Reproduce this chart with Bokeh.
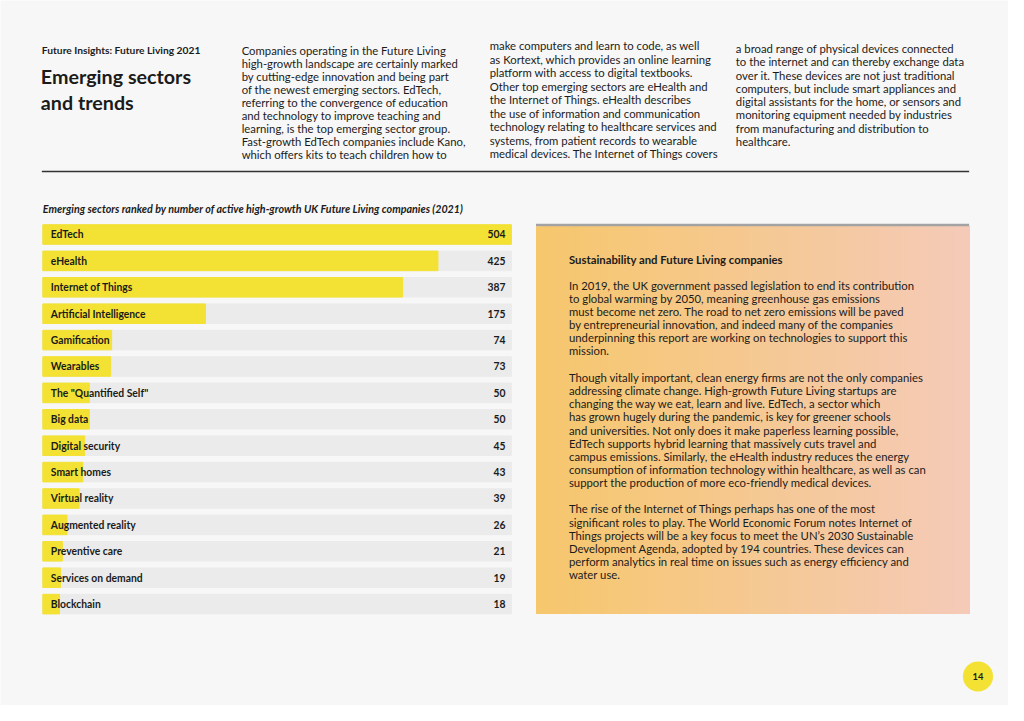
from bokeh.plotting import figure
from bokeh.models import Range1d
from bokeh.core.properties import value
from bokeh.embed import file_html
from bokeh.resources import INLINE

# ---------------- data ----------------
categories = ["EdTech", "eHealth", "Internet of Things", "Artificial Intelligence",
              "Gamification", "Wearables", 'The "Quantified Self"', "Big data",
              "Digital security", "Smart homes", "Virtual reality", "Augmented reality",
              "Preventive care", "Services on demand", "Blockchain"]
counts = [504, 425, 387, 175, 74, 73, 50, 50, 45, 43, 39, 26, 21, 19, 18]

kicker = "Future Insights: Future Living 2021"
title_lines = ["Emerging sectors", "and trends"]
chart_title = "Emerging sectors ranked by number of active high-growth UK Future Living companies (2021)"

col1 = ["Companies operating in the Future Living",
        "high-growth landscape are certainly marked",
        "by cutting-edge innovation and being part",
        "of the newest emerging sectors. EdTech,",
        "referring to the convergence of education",
        "and technology to improve teaching and",
        "learning, is the top emerging sector group.",
        "Fast-growth EdTech companies include Kano,",
        "which offers kits to teach children how to"]
col2 = ["make computers and learn to code, as well",
        "as Kortext, which provides an online learning",
        "platform with access to digital textbooks.",
        "Other top emerging sectors are eHealth and",
        "the Internet of Things. eHealth describes",
        "the use of information and communication",
        "technology relating to healthcare services and",
        "systems, from patient records to wearable",
        "medical devices. The Internet of Things covers"]
col3 = ["a broad range of physical devices connected",
        "to the internet and can thereby exchange data",
        "over it. These devices are not just traditional",
        "computers, but include smart appliances and",
        "digital assistants for the home, or sensors and",
        "monitoring equipment needed by industries",
        "from manufacturing and distribution to",
        "healthcare."]

box_title = "Sustainability and Future Living companies"
box_p1 = ["In 2019, the UK government passed legislation to end its contribution",
          "to global warming by 2050, meaning greenhouse gas emissions",
          "must become net zero. The road to net zero emissions will be paved",
          "by entrepreneurial innovation, and indeed many of the companies",
          "underpinning this report are working on technologies to support this",
          "mission."]
box_p2 = ["Though vitally important, clean energy firms are not the only companies",
          "addressing climate change. High-growth Future Living startups are",
          "changing the way we eat, learn and live. EdTech, a sector which",
          "has grown hugely during the pandemic, is key for greener schools",
          "and universities. Not only does it make paperless learning possible,",
          "EdTech supports hybrid learning that massively cuts travel and",
          "campus emissions. Similarly, the eHealth industry reduces the energy",
          "consumption of information technology within healthcare, as well as can",
          "support the production of more eco-friendly medical devices."]
box_p3 = ["The rise of the Internet of Things perhaps has one of the most",
          "significant roles to play. The World Economic Forum notes Internet of",
          "Things projects will be a key focus to meet the UN\u2019s 2030 Sustainable",
          "Development Agenda, adopted by 194 countries. These devices can",
          "perform analytics in real time on issues such as energy efficiency and",
          "water use."]
page_number = "14"

# ---------------- layout / style ----------------
W, H = 1008, 705            # figure size in screen px
PW, PH = 1024, 721          # page design units (whole page mapped onto the figure)
FONT = value("Lato")
INK = "#1b1b1b"
BG = "#f7f7f7"
YELLOW = "#f3e233"
TRACK = "#ebebeb"


def fs(px):
    return "%.2fpx" % (px * W / PW)


p = figure(width=W, height=H, output_backend="svg", toolbar_location=None,
           x_range=Range1d(0, PW), y_range=Range1d(PH, 0),
           min_border=0, background_fill_color=BG, border_fill_color=BG)
p.axis.visible = False
p.grid.visible = False
p.outline_line_color = None


def lines(x, y0, step, texts, size, style="normal", color=INK):
    ys = [y0 + i * step for i in range(len(texts))]
    p.text(x=[x] * len(texts), y=ys, text=texts, text_font=FONT, text_font_size=fs(size),
           text_font_style=style, text_color=color, text_baseline="middle", text_align="left")


BODY = 11.5
# header
lines(42, 51, 0, [kicker], 10.4, "bold")
lines(41, 78, 26, title_lines, 20, "bold")
lines(245, 51.5, 13.3, col1, BODY)
lines(497, 46.5, 13.8, col2, BODY)
lines(747, 49, 13.6, col3, BODY)
p.segment(x0=[42], y0=[175], x1=[984], y1=[175], line_color="#333333", line_width=1.5)

# chart
lines(43, 213, 0, [chart_title], 10.9, "bold italic")

BAR_X0, BAR_X1 = 43, 519        # page position of value 0 and of the max value
ROW_Y0, ROW_STEP = 239.3, 27.0  # page position of first row centre, row spacing
vmax = max(counts)
span = vmax * PW / (BAR_X1 - BAR_X0)
xs = -BAR_X0 / PW * span
p.extra_x_ranges = {"bars": Range1d(xs, xs + span)}
p.extra_y_ranges = {"rows": Range1d((PH - ROW_Y0) / ROW_STEP, (0 - ROW_Y0) / ROW_STEP)}

idx = list(range(len(categories)))
p.hbar(y=idx, left=0, right=[vmax] * len(idx), height=20 / ROW_STEP, color=TRACK,
       x_range_name="bars", y_range_name="rows")
p.hbar(y=idx, left=0, right=counts, height=20 / ROW_STEP, color=YELLOW,
       x_range_name="bars", y_range_name="rows")
p.text(x=[0] * len(idx), y=idx, text=categories, x_offset=8, text_font=FONT,
       text_font_size=fs(10.5), text_font_style="bold", text_color=INK,
       text_baseline="middle", x_range_name="bars", y_range_name="rows")
p.text(x=[vmax] * len(idx), y=idx, text=[str(c) for c in counts], x_offset=-6, text_font=FONT,
       text_font_size=fs(10.5), text_font_style="bold", text_color=INK,
       text_baseline="middle", text_align="right", x_range_name="bars", y_range_name="rows")

# gradient box (stacked strips, each reaching the right edge, so no seams)
BX0, BX1, BY0, BY1 = 544, 984, 231, 627.5
n = 120
c0 = (246, 199, 108)
c1 = (245, 202, 184)
lefts, cols = [], []
for i in range(n):
    t = i / (n - 1)
    lefts.append(BX0 + (BX1 - BX0) * i / n)
    cols.append("#%02x%02x%02x" % tuple(round(a + (b - a) * t) for a, b in zip(c0, c1)))
p.quad(left=lefts, right=[BX1] * n, top=[BY0] * n, bottom=[BY1] * n, fill_color=cols, line_color=None)
p.quad(left=[BX0], right=[BX1], top=[228.3], bottom=[231], fill_color="#a3a3a3", line_color=None)

lines(577.5, 264.5, 0, [box_title], BODY, "bold")
lines(577.5, 291, 13.35, box_p1, BODY)
lines(577.5, 385.7, 13.4, box_p2, BODY)
lines(577.5, 520, 13.35, box_p3, BODY)

# page number
p.circle(x=[993], y=[691.3], radius=15.3, fill_color=YELLOW, line_color=None)
p.text(x=[993], y=[691.3], text=[page_number], text_font=FONT, text_font_size=fs(9.5),
       text_font_style="bold", text_color=INK, text_align="center", text_baseline="middle")

open("out.html", "w").write(file_html(p, INLINE))
